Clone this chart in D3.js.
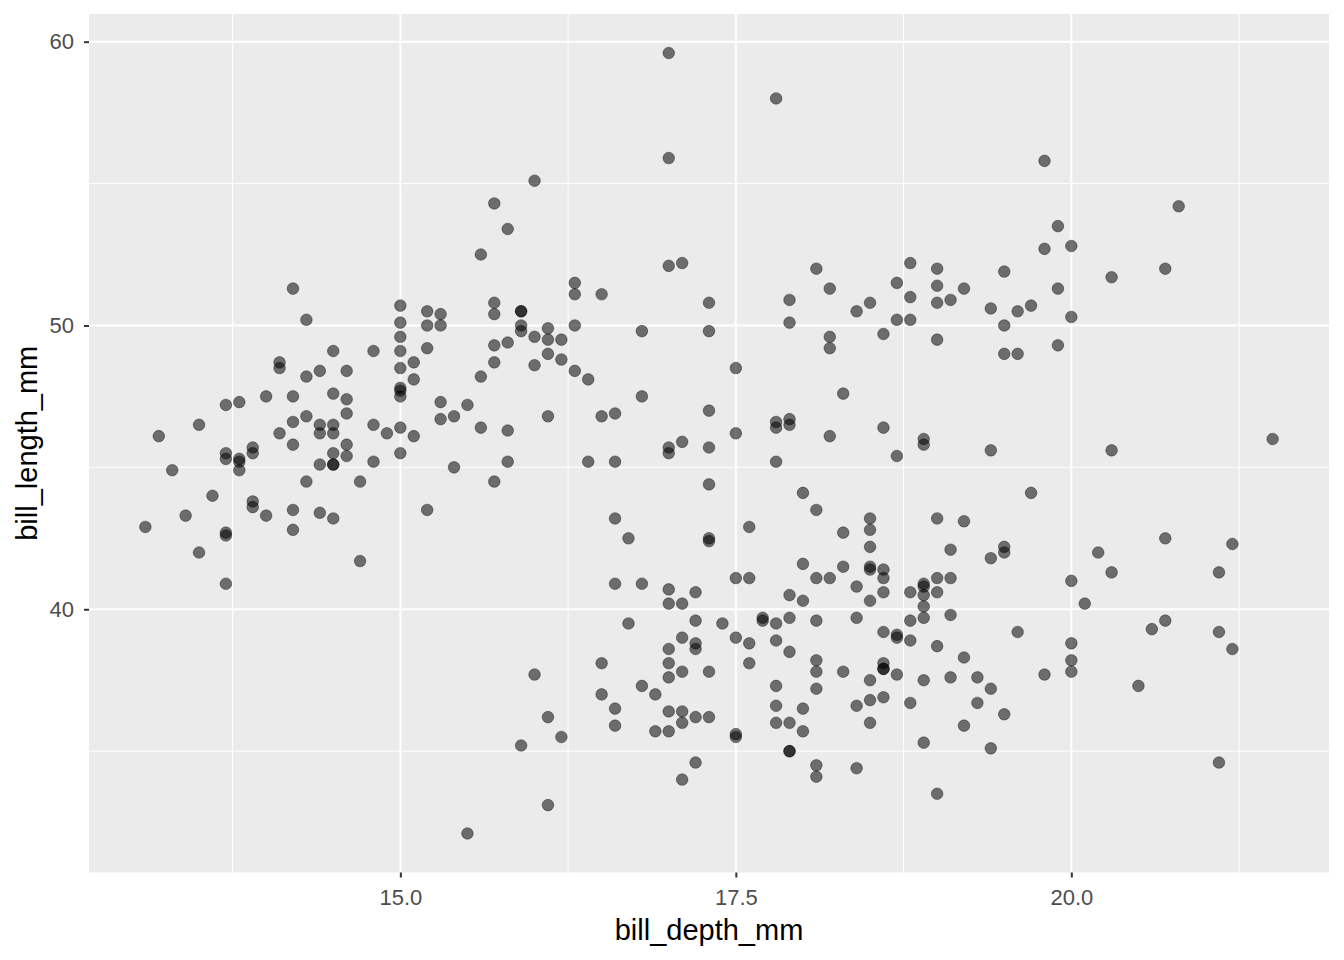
<!DOCTYPE html>
<html>
<head>
<meta charset="utf-8">
<script src="https://cdn.jsdelivr.net/npm/d3@7"></script>
<style>
  html, body { margin: 0; padding: 0; background: #fff; }
  svg { display: block; font-family: "Liberation Sans", Arial, sans-serif; }
</style>
</head>
<body>
<svg id="chart" width="1344" height="960"></svg>
<script>
// Palmer penguins: bill_depth_mm (x) vs bill_length_mm (y)
const adelieDepth = [18.7,17.4,18.0,19.3,20.6,17.8,19.6,18.1,20.2,17.1,17.3,17.6,21.2,21.1,17.8,19.0,20.7,18.4,21.5,18.3,18.7,19.2,18.1,17.2,18.9,18.6,17.9,18.6,18.9,16.7,18.1,17.8,18.9,17.0,21.1,20.0,18.5,19.3,19.1,18.0,18.4,18.5,19.7,16.9,18.8,19.0,18.9,17.9,21.2,17.7,18.9,17.9,19.5,18.1,18.6,17.5,18.8,16.6,19.1,16.9,21.1,17.0,18.2,17.1,18.0,16.2,19.1,16.6,19.4,19.0,18.4,17.2,18.9,17.5,18.5,16.8,19.4,16.1,19.1,17.2,17.6,18.8,19.4,17.8,20.3,19.5,18.6,19.2,18.8,18.0,18.1,17.1,18.1,17.3,18.9,18.6,18.5,16.1,18.5,17.9,20.0,16.0,20.0,18.6,18.9,17.2,20.0,17.0,19.0,16.5,20.3,17.7,19.5,20.7,18.3,17.0,20.5,17.0,18.6,17.2,19.8,17.0,18.5,15.9,19.0,17.6,18.3,17.1,18.0,17.9,19.2,18.5,18.5,17.6,17.5,17.5,20.1,16.5,17.9,17.1,17.2,15.5,17.0,16.8,18.7,18.6,18.4,17.8,18.1,17.1,18.5];
const adelieLength = [39.1,39.5,40.3,36.7,39.3,38.9,39.2,34.1,42.0,37.8,37.8,41.1,38.6,34.6,36.6,38.7,42.5,34.4,46.0,37.8,37.7,35.9,38.2,38.8,35.3,40.6,40.5,37.9,40.5,39.5,37.2,39.5,40.9,36.4,39.2,38.8,42.2,37.6,39.8,36.5,40.8,36.0,44.1,37.0,39.6,41.1,37.5,36.0,42.3,39.6,40.1,35.0,42.0,34.5,41.4,39.0,40.6,36.5,37.6,35.7,41.3,37.6,41.1,36.4,41.6,35.5,41.1,35.9,41.8,33.5,39.7,39.6,45.8,35.5,42.8,40.9,37.2,36.2,42.1,34.6,42.9,36.7,35.1,37.3,41.3,36.3,36.9,38.3,38.9,35.7,41.1,34.0,39.6,36.2,40.8,38.1,40.3,33.1,43.2,35.0,41.0,37.7,37.8,37.9,39.7,38.6,38.2,38.1,43.2,38.1,45.6,39.7,42.2,39.6,42.7,38.6,37.3,35.7,41.1,36.2,37.7,40.2,41.4,35.2,40.6,38.8,41.5,39.0,44.1,38.5,43.1,36.8,37.5,38.1,41.1,35.6,40.2,37.0,39.7,40.2,40.6,32.1,40.7,37.3,39.0,39.2,36.6,36.0,37.8,36.0,41.5];
const gentooDepth = [13.2,16.3,14.1,15.2,14.5,13.5,14.6,15.3,13.4,15.4,13.7,16.1,13.7,14.6,14.6,15.7,13.5,15.2,14.5,15.1,14.3,14.5,14.5,15.8,13.1,15.1,14.3,15.0,14.3,15.3,15.3,14.2,14.5,17.0,14.8,16.3,13.7,17.3,13.6,15.7,13.7,16.0,13.7,15.0,15.9,13.9,13.9,15.9,13.3,15.8,14.2,14.1,14.4,15.0,14.4,15.4,13.9,15.0,14.5,15.3,13.8,14.9,13.9,15.7,14.2,16.8,14.4,16.2,14.2,15.0,15.0,15.6,15.6,14.8,15.0,16.0,14.2,16.3,13.8,16.4,14.5,15.6,14.6,15.9,13.8,17.3,14.4,14.2,14.0,17.0,15.0,17.1,14.5,16.1,14.7,15.7,15.8,14.6,14.4,16.5,15.0,17.0,15.5,15.0,13.8,16.1,14.7,15.8,14.0,15.1,15.2,15.9,15.2,16.3,14.1,16.0,15.7,16.2,13.7,14.3,15.7,14.8,16.1];
const gentooLength = [46.1,50.0,48.7,50.0,47.6,46.5,45.4,46.7,43.3,46.8,40.9,49.0,45.5,48.4,45.8,49.3,42.0,49.2,46.2,48.7,50.2,45.1,46.5,46.3,42.9,46.1,44.5,47.8,48.2,50.0,47.3,42.8,45.1,59.6,49.1,48.4,42.6,44.4,44.0,48.7,42.7,49.6,45.3,49.6,50.5,43.6,45.5,50.5,44.9,45.2,46.6,48.5,45.1,50.1,46.5,45.0,43.8,45.5,43.2,50.4,45.3,46.2,45.7,54.3,45.8,49.8,46.2,49.5,43.5,50.7,47.7,46.4,48.2,46.5,46.4,48.6,47.5,51.1,45.2,45.2,49.1,52.5,47.4,50.0,44.9,50.8,43.4,51.3,47.5,52.1,47.5,52.2,45.5,49.5,44.5,50.8,49.4,46.9,48.4,51.1,48.5,55.9,47.2,49.1,47.3,46.8,41.7,53.4,43.3,48.1,50.5,49.8,43.5,51.5,46.2,55.1,44.5,48.8,47.2,46.8,50.4,45.2,49.9];
const chinstrapDepth = [17.9,19.5,19.2,18.7,19.8,17.8,18.2,18.2,18.9,19.9,17.8,20.3,17.3,18.1,17.1,19.6,20.0,17.8,18.6,18.2,17.3,17.5,16.6,19.4,17.9,19.0,18.4,19.0,17.8,20.0,16.6,20.8,16.7,18.8,18.6,16.8,18.3,20.7,16.6,19.9,19.5,17.5,19.1,17.0,17.9,18.5,17.9,19.6,18.7,17.3,16.4,19.0,17.3,19.7,17.3,18.8,16.6,19.9,18.8,19.4,19.5,16.5,17.0,19.8,18.1,18.2,19.0,18.7];
const chinstrapLength = [46.5,50.0,51.3,45.4,52.7,45.2,46.1,51.3,46.0,51.3,46.6,51.7,47.0,52.0,45.9,50.5,50.3,58.0,46.4,49.2,42.4,48.5,43.2,50.6,46.7,52.0,50.5,49.5,46.4,52.8,40.9,54.2,42.5,51.0,49.7,47.5,47.6,52.0,46.9,53.5,49.0,46.2,50.9,45.5,50.9,50.8,50.1,49.0,51.5,49.8,48.1,51.4,45.7,50.7,42.5,52.2,45.2,49.3,50.2,45.6,51.9,46.8,45.7,55.8,43.5,49.6,50.8,50.2];

const xTicks = [15.0, 17.5, 20.0];
const xTickLabels = ["15.0", "17.5", "20.0"];
const yTicks = [40, 50, 60];
const yTickLabels = ["40", "50", "60"];
const xTitle = "bill_depth_mm";
const yTitle = "bill_length_mm";

const depth = adelieDepth.concat(gentooDepth, chinstrapDepth);
const length = adelieLength.concat(gentooLength, chinstrapLength);
const points = depth.map((d, i) => ({ x: d, y: length[i] }));

const panel = { left: 89, right: 1329, top: 14, bottom: 872.5 };

function expand(ext) {
  const r = ext[1] - ext[0];
  return [ext[0] - 0.05 * r, ext[1] + 0.05 * r];
}

const x = d3.scaleLinear().domain(expand(d3.extent(depth))).range([panel.left, panel.right]);
const y = d3.scaleLinear().domain(expand(d3.extent(length))).range([panel.bottom, panel.top]);

const svg = d3.select("#chart");

svg.append("rect")
  .attr("x", panel.left).attr("y", panel.top)
  .attr("width", panel.right - panel.left).attr("height", panel.bottom - panel.top)
  .attr("fill", "#EBEBEB");

// minor gridlines
const xMinor = xTicks.slice(0, -1).map((t, i) => (t + xTicks[i + 1]) / 2);
xMinor.unshift(xTicks[0] - (xTicks[1] - xTicks[0]) / 2);
xMinor.push(xTicks[xTicks.length - 1] + (xTicks[1] - xTicks[0]) / 2);
const yMinor = yTicks.slice(0, -1).map((t, i) => (t + yTicks[i + 1]) / 2);
yMinor.unshift(yTicks[0] - (yTicks[1] - yTicks[0]) / 2);

const grid = svg.append("g");
grid.selectAll(".xminor").data(xMinor.filter(v => x(v) > panel.left && x(v) < panel.right)).enter()
  .append("line")
  .attr("x1", d => x(d)).attr("x2", d => x(d))
  .attr("y1", panel.top).attr("y2", panel.bottom)
  .attr("stroke", "#fff").attr("stroke-width", 1);
grid.selectAll(".yminor").data(yMinor.filter(v => y(v) > panel.top && y(v) < panel.bottom)).enter()
  .append("line")
  .attr("y1", d => y(d)).attr("y2", d => y(d))
  .attr("x1", panel.left).attr("x2", panel.right)
  .attr("stroke", "#fff").attr("stroke-width", 1);
grid.selectAll(".xmajor").data(xTicks).enter()
  .append("line")
  .attr("x1", d => x(d)).attr("x2", d => x(d))
  .attr("y1", panel.top).attr("y2", panel.bottom)
  .attr("stroke", "#fff").attr("stroke-width", 2);
grid.selectAll(".ymajor").data(yTicks).enter()
  .append("line")
  .attr("y1", d => y(d)).attr("y2", d => y(d))
  .attr("x1", panel.left).attr("x2", panel.right)
  .attr("stroke", "#fff").attr("stroke-width", 2);

// points
svg.append("g").selectAll("circle").data(points).enter()
  .append("circle")
  .attr("cx", d => x(d.x)).attr("cy", d => y(d.y))
  .attr("r", 5.8)
  .attr("fill", "#000").attr("fill-opacity", 0.54)
  .attr("stroke", "#000").attr("stroke-opacity", 0.42).attr("stroke-width", 0.9);

// axes
const xAxis = d3.axisBottom(x).tickValues(xTicks)
  .tickFormat((d, i) => xTickLabels[i]).tickSize(5).tickPadding(12);
const gx = svg.append("g").attr("transform", `translate(0,${panel.bottom})`).call(xAxis);
gx.attr("font-size", null).attr("font-family", null);
gx.select(".domain").remove();
gx.selectAll(".tick line").attr("stroke", "#333").attr("stroke-width", 2);
gx.selectAll(".tick text").attr("fill", "#4D4D4D")
  .style("font-size", "22px")
  .style("font-family", "'Liberation Sans', Arial, sans-serif");

const yAxis = d3.axisLeft(y).tickValues(yTicks)
  .tickFormat((d, i) => yTickLabels[i]).tickSize(5).tickPadding(10);
const gy = svg.append("g").attr("transform", `translate(${panel.left},0)`).call(yAxis);
gy.attr("font-size", null).attr("font-family", null);
gy.select(".domain").remove();
gy.selectAll(".tick line").attr("stroke", "#333").attr("stroke-width", 2);
gy.selectAll(".tick text").attr("fill", "#4D4D4D")
  .style("font-size", "22px")
  .style("font-family", "'Liberation Sans', Arial, sans-serif");

// titles
svg.append("text")
  .attr("x", (panel.left + panel.right) / 2).attr("y", 940)
  .attr("text-anchor", "middle").style("font-size", "29px").attr("fill", "#000")
  .text(xTitle);
svg.append("text")
  .attr("transform", `translate(37,${(panel.top + panel.bottom) / 2}) rotate(-90)`)
  .attr("text-anchor", "middle").style("font-size", "29px").attr("fill", "#000")
  .text(yTitle);
</script>
</body>
</html>
